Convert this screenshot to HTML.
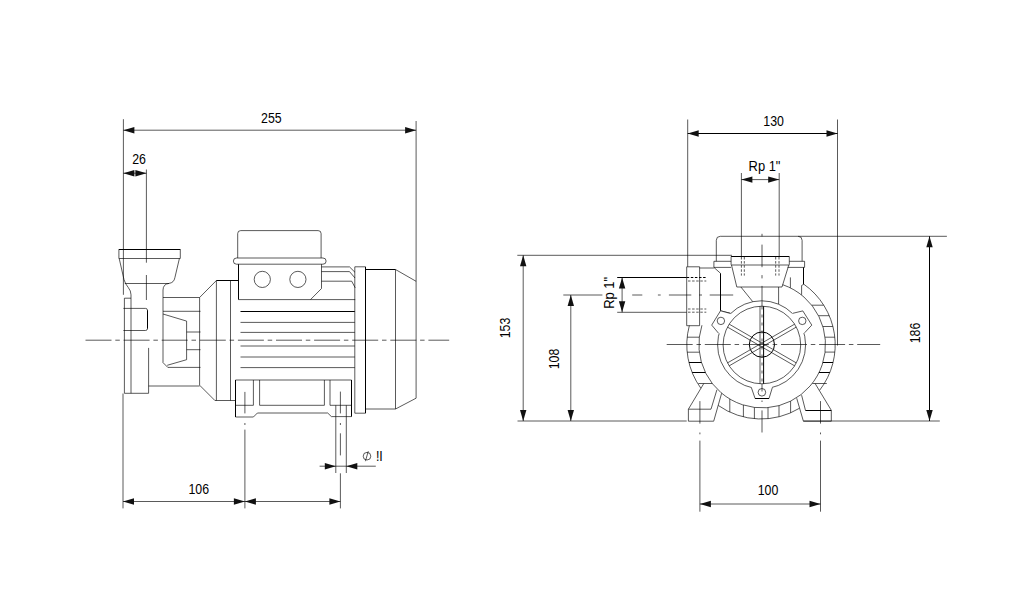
<!DOCTYPE html>
<html>
<head>
<meta charset="utf-8">
<title>Pump dimensional drawing</title>
<style>
html, body { margin: 0; padding: 0; background: #ffffff; }
body { width: 1034px; height: 611px; overflow: hidden; }
svg { display: block; }
svg line, svg path, svg circle, svg rect { fill: none; stroke: #000; stroke-width: 0.65; }
svg .k { stroke-width: 1; }
svg .a { fill: #111; stroke: none; }
svg text { font-family: "Liberation Sans", sans-serif; font-size: 14.2px; fill: #000; stroke: none; }
</style>
</head>
<body>
<svg width="1034" height="611" viewBox="0 0 1034 611">
<rect x="0" y="0" width="1034" height="611" style="fill:#ffffff;stroke:none"/>
<line x1="123.4" y1="119.2" x2="123.4" y2="294.8"/>
<line x1="416.1" y1="121" x2="416.1" y2="398.2"/>
<line x1="123.4" y1="130.2" x2="416.1" y2="130.2"/>
<polygon points="123.4,130.2 134.4,127 134.4,133.4" class="a"/>
<polygon points="416.1,130.2 405.1,133.4 405.1,127" class="a"/>
<text text-anchor="middle" transform="translate(271.4 123.2) scale(0.87 1)">255</text>
<line x1="123.4" y1="173.2" x2="146.4" y2="173.2"/>
<polygon points="123.4,173.2 134.4,170 134.4,176.4" class="a"/>
<polygon points="146.4,173.2 135.4,176.4 135.4,170" class="a"/>
<text text-anchor="middle" transform="translate(139 163.8) scale(0.87 1)">26</text>
<line x1="146.4" y1="169.5" x2="146.4" y2="262.7"/>
<line x1="146.4" y1="275" x2="146.4" y2="300"/>
<line x1="123" y1="393.5" x2="123" y2="508.4"/>
<line x1="123" y1="501.5" x2="340.4" y2="501.5"/>
<polygon points="123,501.5 134,498.3 134,504.7" class="a"/>
<polygon points="244.9,501.5 233.9,504.7 233.9,498.3" class="a"/>
<polygon points="244.9,501.5 255.9,498.3 255.9,504.7" class="a"/>
<polygon points="340.4,501.5 329.4,504.7 329.4,498.3" class="a"/>
<text text-anchor="middle" transform="translate(198.8 493.7) scale(0.87 1)">106</text>
<line x1="244.9" y1="391.9" x2="244.9" y2="413.4"/>
<line x1="244.9" y1="423" x2="244.9" y2="425"/>
<line x1="244.9" y1="429.6" x2="244.9" y2="508.4"/>
<line x1="340.4" y1="391.6" x2="340.4" y2="413.4"/>
<line x1="340.4" y1="423" x2="340.4" y2="425"/>
<line x1="340.4" y1="433.3" x2="340.4" y2="455.4"/>
<line x1="340.4" y1="473.3" x2="340.4" y2="508.4"/>
<line x1="335.8" y1="405.3" x2="335.8" y2="473"/>
<line x1="346.3" y1="405.3" x2="346.3" y2="473"/>
<line x1="319.6" y1="466.2" x2="375.8" y2="466.2"/>
<polygon points="335.8,466.2 324.8,469.4 324.8,463" class="a"/>
<polygon points="346.3,466.2 357.3,463 357.3,469.4" class="a"/>
<circle cx="367" cy="456.2" r="3.8"/>
<line x1="365.4" y1="461.2" x2="368.3" y2="451.2"/>
<text text-anchor="start" transform="translate(375.9 461) scale(0.87 1)">!I</text>
<line x1="85.5" y1="340.2" x2="449.2" y2="340.2" stroke-dasharray="26 3.8 4.5 3.8"/>
<line x1="118.8" y1="249.5" x2="180.4" y2="249.5" class="k"/>
<line x1="118.9" y1="249.5" x2="118.9" y2="258.3"/>
<line x1="180.3" y1="249.5" x2="180.3" y2="258.3"/>
<line x1="118.8" y1="258.5" x2="180.4" y2="258.5"/>
<path d="M119.2,258.5 L124,279.6 Q125.3,284 128.2,287.4 Q131,290.8 131,294.8 V393.3"/>
<path d="M179.4,258.5 L174.9,277.6 Q174,282.8 169,283.4 Q163.2,284 163,290 V362.6 L167.8,367.4 H200.5"/>
<line x1="124.8" y1="283.5" x2="169" y2="283.5"/>
<path d="M131,298.2 L124.4,298.2 L124.4,393.3 L148.6,393.3 L148.6,347.9"/>
<path d="M123.4,308.4 H145.5 Q147.5,308.4 147.5,310.4 M147.5,328.5 Q147.5,330.5 145.5,330.5 H123.4"/>
<line x1="147.5" y1="310.2" x2="147.5" y2="328.7" class="k"/>
<line x1="148.6" y1="386" x2="199.6" y2="386"/>
<line x1="163" y1="297.5" x2="199.6" y2="297.5"/>
<line x1="163" y1="311.3" x2="200.5" y2="311.3"/>
<path d="M163,314 L186.6,321.1 L186.6,359.7 L167.2,365.3"/>
<line x1="186.6" y1="332" x2="200.5" y2="332"/>
<line x1="186.6" y1="349.7" x2="200.5" y2="349.7"/>
<line x1="199.6" y1="297.5" x2="199.6" y2="385.2"/>
<line x1="199.6" y1="297.5" x2="216.4" y2="280.5"/>
<line x1="216.4" y1="280.5" x2="238.5" y2="280.5" class="k"/>
<line x1="216.4" y1="280.5" x2="216.4" y2="400.5"/>
<line x1="230.5" y1="280.5" x2="230.5" y2="400.5"/>
<path d="M199.6,385.2 L214.9,400.5 L235.5,400.5"/>
<line x1="238.5" y1="264.2" x2="238.5" y2="299.6" class="k"/>
<line x1="238.5" y1="299.6" x2="355.2" y2="299.6"/>
<path d="M321.5,264.2 L321.5,288.5 L310.5,299.6"/>
<rect x="233.4" y="258" width="92.7" height="6.2" rx="3.1"/>
<path d="M237.7,258 V233.6 Q237.7,230.6 240.7,230.6 H318.1 Q321.1,230.6 321.1,233.6 V258"/>
<circle cx="262.3" cy="279.4" r="8.1"/>
<circle cx="297.9" cy="279.4" r="8.1"/>
<path d="M321.5,266.9 L349.5,266.9 L355,272.3"/>
<path d="M321.5,271.6 L349.5,271.6 L355,278"/>
<path d="M321.5,281.2 L351.7,281.2 L355.2,287.8"/>
<line x1="240.5" y1="311.5" x2="354.8" y2="311.5" class="k"/>
<line x1="240.5" y1="322.4" x2="354.8" y2="322.4"/>
<line x1="240.5" y1="332.4" x2="354.8" y2="332.4"/>
<line x1="240.5" y1="346" x2="354.8" y2="346"/>
<line x1="240.5" y1="357" x2="354.8" y2="357"/>
<line x1="240.5" y1="367.6" x2="354.8" y2="367.6"/>
<path d="M365.5,266.8 L354.8,266.8 L354.8,413.2 L365.5,413.2"/>
<line x1="365.5" y1="266.8" x2="365.5" y2="413.2" class="k"/>
<line x1="365.5" y1="269.5" x2="395.5" y2="269.5" class="k"/>
<line x1="395.5" y1="269.5" x2="416.1" y2="281.3"/>
<line x1="365.5" y1="409" x2="395.5" y2="409" stroke-width="1.5"/>
<line x1="395.5" y1="409" x2="416.1" y2="398.2"/>
<line x1="395.5" y1="269.5" x2="395.5" y2="409"/>
<line x1="235.5" y1="380" x2="235.5" y2="417" class="k"/>
<line x1="235.5" y1="417" x2="253.4" y2="417" stroke-width="1.5"/>
<path d="M253.4,417 L257.4,413 L327.7,413 L331.4,416.6 L351.5,416.6"/>
<line x1="351.5" y1="380" x2="351.5" y2="416.6" class="k"/>
<line x1="235.5" y1="380" x2="351.5" y2="380"/>
<line x1="253.4" y1="380" x2="253.4" y2="405.3"/>
<line x1="259.6" y1="380" x2="259.6" y2="405.3"/>
<line x1="324.4" y1="380" x2="324.4" y2="405.3"/>
<line x1="330" y1="380" x2="330" y2="405.3"/>
<line x1="235.5" y1="405.3" x2="253.4" y2="405.3"/>
<line x1="259.6" y1="405.3" x2="324.4" y2="405.3"/>
<line x1="330" y1="405.3" x2="351.5" y2="405.3"/>
<line x1="687.7" y1="119.5" x2="687.7" y2="266.7"/>
<line x1="837.5" y1="119.5" x2="837.5" y2="345.5"/>
<line x1="687.7" y1="133.5" x2="837.5" y2="133.5" class="k"/>
<polygon points="687.7,133.5 698.7,130.3 698.7,136.7" class="a"/>
<polygon points="837.5,133.5 826.5,136.7 826.5,130.3" class="a"/>
<text text-anchor="middle" transform="translate(773.6 126.1) scale(0.87 1)">130</text>
<text text-anchor="middle" transform="translate(764.5 171.2) scale(0.91 1)">Rp 1&quot;</text>
<line x1="741.4" y1="179.6" x2="779.2" y2="179.6"/>
<polygon points="741.4,179.6 752.4,176.4 752.4,182.8" class="a"/>
<polygon points="779.2,179.6 768.2,182.8 768.2,176.4" class="a"/>
<line x1="741.4" y1="173" x2="741.4" y2="256.4"/>
<line x1="779.2" y1="173" x2="779.2" y2="256.4"/>
<line x1="517.3" y1="255.3" x2="732" y2="255.3"/>
<line x1="523.2" y1="255.3" x2="523.2" y2="421"/>
<polygon points="523.2,255.3 526.4,266.3 520,266.3" class="a"/>
<polygon points="523.2,421 520,410 526.4,410" class="a"/>
<text text-anchor="middle" transform="translate(509.5 328) rotate(-90) scale(0.87 1)">153</text>
<line x1="570.8" y1="295" x2="570.8" y2="421"/>
<polygon points="570.8,295 574,306 567.6,306" class="a"/>
<polygon points="570.8,421 567.6,410 574,410" class="a"/>
<text text-anchor="middle" transform="translate(559.4 359) rotate(-90) scale(0.87 1)">108</text>
<line x1="517.5" y1="421" x2="686.7" y2="421"/>
<line x1="617.2" y1="277.5" x2="686.7" y2="277.5" class="k"/>
<line x1="617.2" y1="312.3" x2="686.7" y2="312.3"/>
<line x1="622.1" y1="277.5" x2="622.1" y2="312.3"/>
<polygon points="622.1,277.5 625.3,288.5 618.9,288.5" class="a"/>
<polygon points="622.1,312.3 618.9,301.3 625.3,301.3" class="a"/>
<text text-anchor="middle" transform="translate(614.2 292.9) rotate(-90) scale(0.91 1)">Rp 1&quot;</text>
<line x1="563.3" y1="295" x2="602.4" y2="295"/>
<line x1="632.2" y1="295" x2="642.3" y2="295"/>
<line x1="657.9" y1="295" x2="660.7" y2="295"/>
<line x1="668.9" y1="295" x2="691.3" y2="295"/>
<line x1="699.2" y1="295" x2="702" y2="295"/>
<line x1="709.7" y1="295" x2="733.2" y2="295"/>
<line x1="798.1" y1="236.3" x2="946.9" y2="236.3"/>
<line x1="803.4" y1="421" x2="939.8" y2="421"/>
<line x1="929.5" y1="236.3" x2="929.5" y2="421" class="k"/>
<polygon points="929.5,236.3 932.7,247.3 926.3,247.3" class="a"/>
<polygon points="929.5,421 926.3,410 932.7,410" class="a"/>
<text text-anchor="middle" transform="translate(920 333) rotate(-90) scale(0.87 1)">186</text>
<line x1="699.9" y1="504" x2="820.5" y2="504"/>
<polygon points="699.9,504 710.9,500.8 710.9,507.2" class="a"/>
<polygon points="820.5,504 809.5,507.2 809.5,500.8" class="a"/>
<text text-anchor="middle" transform="translate(768 494.6) scale(0.87 1)">100</text>
<line x1="699.9" y1="401.1" x2="699.9" y2="423.6"/>
<line x1="699.9" y1="432.5" x2="699.9" y2="434.3"/>
<line x1="699.9" y1="440.6" x2="699.9" y2="511.7"/>
<line x1="820.5" y1="401.1" x2="820.5" y2="423.6"/>
<line x1="820.5" y1="432.5" x2="820.5" y2="434.3"/>
<line x1="820.5" y1="440.6" x2="820.5" y2="511.7"/>
<path d="M716.3,261.3 V240.3 Q716.3,236.3 720.3,236.3 H798.1 Q802.1,236.3 802.1,240.3 V261.3"/>
<path d="M731.1,261.3 L713.9,261.3 L713.9,267.4 L731.1,267.4"/>
<path d="M789.3,261.3 L804.6,261.3 L804.6,267.4 L787.6,267.4"/>
<line x1="731.1" y1="256.5" x2="731.1" y2="264.8"/>
<line x1="789.3" y1="256.5" x2="789.3" y2="264.8"/>
<line x1="731.1" y1="256.5" x2="789.3" y2="256.5" class="k"/>
<line x1="731.1" y1="265" x2="789.3" y2="265"/>
<path d="M731.5,265 L736.8,287 L782,287 L788.8,265"/>
<line x1="740.9" y1="287" x2="752.7" y2="301.6"/>
<line x1="778.6" y1="287" x2="778.6" y2="304.2"/>
<line x1="741.4" y1="257" x2="741.4" y2="275.6" stroke-dasharray="2.5 1.6"/>
<line x1="744.3" y1="257" x2="744.3" y2="275.6" stroke-dasharray="2.5 1.6"/>
<line x1="775.7" y1="257" x2="775.7" y2="275.6" stroke-dasharray="2.5 1.6"/>
<line x1="779" y1="257" x2="779" y2="275.6" stroke-dasharray="2.5 1.6"/>
<line x1="713.9" y1="267.4" x2="720.5" y2="273.3"/>
<line x1="720.5" y1="273.3" x2="720.5" y2="310.8" class="k"/>
<line x1="720.5" y1="310.8" x2="730.6" y2="313.3"/>
<line x1="803.5" y1="267.4" x2="803.5" y2="284.4" class="k"/>
<path d="M803.5,284.4 L801.6,285.5 L801.6,294.8"/>
<line x1="790.4" y1="277.4" x2="790.4" y2="287.8"/>
<path d="M699.6,266.8 L686.7,266.8 L686.7,325.7 L699.6,325.7 L699.6,266.8"/>
<line x1="699.6" y1="268" x2="713.9" y2="268"/>
<line x1="686.7" y1="277.5" x2="706.3" y2="277.5" stroke-dasharray="2.5 1.6" class="k"/>
<line x1="688" y1="281" x2="706.3" y2="281" stroke-dasharray="2.5 1.6"/>
<line x1="688" y1="309" x2="706.3" y2="309" stroke-dasharray="2.5 1.6"/>
<line x1="688" y1="312.2" x2="706.3" y2="312.2" stroke-dasharray="2.5 1.6"/>
<path d="M803.7,284.12 A74.2,74.2 0 0 1 819.61,390.31"/>
<path d="M700.82,388.2 A74.2,74.2 0 0 1 689.33,325.6"/>
<path d="M799.4,408.29 A74.2,74.2 0 0 1 718.29,405.47"/>
<path d="M782.68,284.7 A63.3,63.3 0 1 1 701.94,325.22"/>
<line x1="811.74" y1="305.2" x2="823.75" y2="305.2"/>
<line x1="818.52" y1="315.7" x2="829.26" y2="315.7"/>
<line x1="822.86" y1="326.5" x2="832.91" y2="326.5"/>
<line x1="825.07" y1="337.2" x2="834.81" y2="337.2"/>
<line x1="825.05" y1="352.1" x2="834.84" y2="352.1"/>
<line x1="822.92" y1="362.5" x2="833.06" y2="362.5" class="k"/>
<line x1="819.02" y1="372.5" x2="829.84" y2="372.5" class="k"/>
<line x1="812.4" y1="383.5" x2="826.8" y2="383.5"/>
<line x1="687.19" y1="337.2" x2="699.33" y2="337.2"/>
<line x1="687.17" y1="352.2" x2="699.36" y2="352.2"/>
<line x1="688.94" y1="362.5" x2="701.48" y2="362.5" class="k"/>
<line x1="692.16" y1="372.5" x2="705.38" y2="372.5" class="k"/>
<line x1="698.4" y1="383.5" x2="712.4" y2="383.5"/>
<line x1="729.8" y1="398.98" x2="729.8" y2="412.12"/>
<line x1="743.4" y1="405.04" x2="743.4" y2="416.88"/>
<line x1="754.4" y1="407.42" x2="754.4" y2="418.71"/>
<line x1="768" y1="407.63" x2="768" y2="418.67"/>
<line x1="779" y1="405.63" x2="779" y2="416.78"/>
<line x1="790.6" y1="401.17" x2="790.6" y2="412.84"/>
<path d="M703.8,383.5 L688.4,409.2 L688.4,421.2 L713.7,421.2 L721.6,393.4"/>
<path d="M688.4,409.2 L711,409.2 L716.9,389.8"/>
<path d="M815.1,383.5 L831.3,410.3 L831.3,421.2 L803.4,421.2 L796.7,398.2"/>
<line x1="805.5" y1="410.5" x2="831.3" y2="410.5" class="k"/>
<line x1="805.5" y1="410.5" x2="801.6" y2="395.2"/>
<circle cx="761.6" cy="344.8" r="44"/>
<circle cx="761.9" cy="345" r="38.8" stroke-width="0.85"/>
<circle cx="761.9" cy="344.6" r="12.6" class="k"/>
<polygon points="731.76,314.95 730.2,313.4 720.5,310.8 711.7,325.1 718.5,333.2 720.63,333.76" fill="#fff" stroke="none"/>
<path d="M730.2,313.4 L720.5,310.8 L711.7,325.1 L718.5,333.2"/>
<polygon points="791.24,314.86 792.8,313.3 802.8,310.9 811.8,325.1 804.6,332.8 802.48,333.38" fill="#fff" stroke="none"/>
<path d="M792.8,313.3 L802.8,310.9 L811.8,325.1 L804.6,332.8"/>
<polygon points="751.81,385.26 751.3,387.4 755.1,398.5 769,398.5 772.4,387.4 771.86,385.27" fill="#fff" stroke="none"/>
<path d="M751.3,387.4 L755.1,398.5 L769,398.5 L772.4,387.4"/>
<line x1="755.1" y1="398.5" x2="769" y2="398.5" class="k"/>
<circle cx="720.9" cy="320.9" r="3.7"/>
<circle cx="802.3" cy="320.9" r="3.7"/>
<circle cx="761.9" cy="392.3" r="3.8"/>
<line x1="762" y1="233.8" x2="762" y2="236.4"/>
<line x1="762" y1="244.6" x2="762" y2="267.2"/>
<line x1="762" y1="275.1" x2="762" y2="278.4"/>
<line x1="762" y1="285.9" x2="762" y2="306.5"/>
<line x1="762" y1="383.8" x2="762" y2="391.5"/>
<line x1="762" y1="400.5" x2="762" y2="402"/>
<line x1="762" y1="410.4" x2="762" y2="432.5"/>
<line x1="762" y1="306.5" x2="762" y2="383.8" stroke-dasharray="3 5"/>
<line x1="666.7" y1="344.5" x2="880.2" y2="344.5" stroke-dasharray="26 3.8 4.5 3.8"/>
<line x1="729.18" y1="324.15" x2="796.32" y2="362.91"/>
<line x1="727.48" y1="327.09" x2="794.62" y2="365.85"/>
<line x1="796.32" y1="327.09" x2="729.18" y2="365.85"/>
<line x1="794.62" y1="324.15" x2="727.48" y2="362.91"/>
<line x1="763.6" y1="306.24" x2="763.6" y2="383.76" class="k"/>
<line x1="760" y1="306.24" x2="760" y2="383.76" stroke-width="1"/>
</svg>
</body>
</html>
